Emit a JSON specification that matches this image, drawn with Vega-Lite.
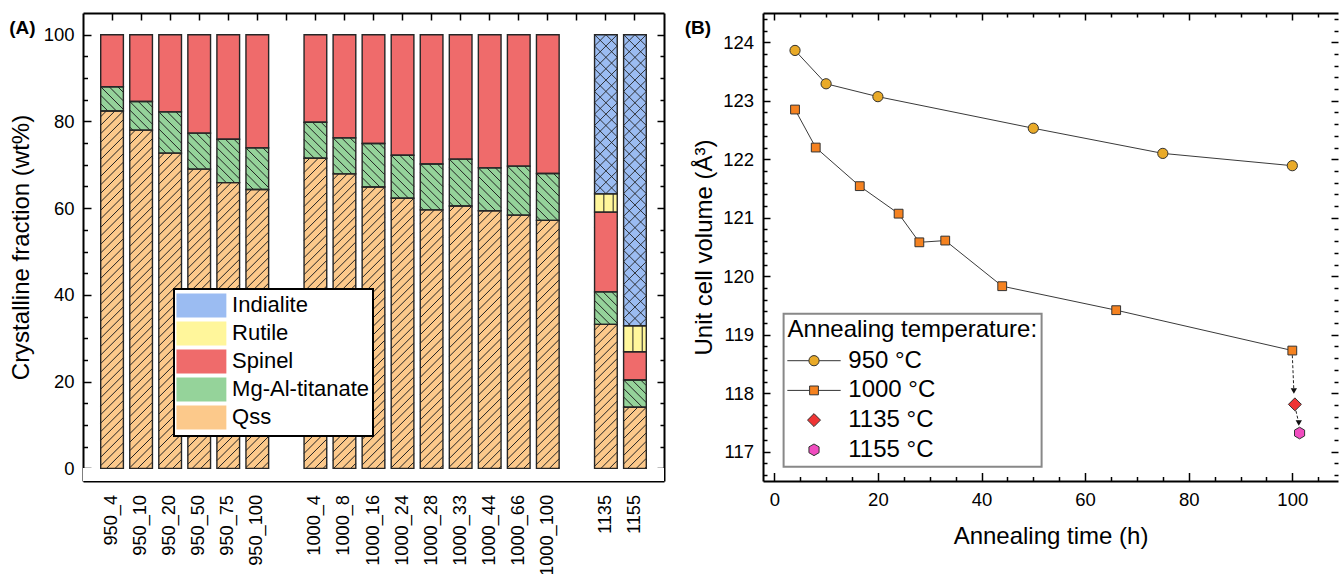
{
  "$schema": "https://vega.github.io/schema/vega-lite/v6.json",
  "background": "white",
  "padding": {"left": 9, "top": 12, "right": 0, "bottom": 0},
  "spacing": 19,
  "config": {
    "font": "Liberation Sans",
    "view": {"stroke": null},
    "axis": {
      "grid": false, "zindex": 1, "labelFont": "Liberation Sans", "titleFont": "Liberation Sans",
      "labelColor": "black", "titleColor": "black", "tickColor": "black", "domainColor": "black",
      "domainWidth": 2, "tickWidth": 1.5, "labelFontSize": 18.5, "titleFontSize": 24,
      "titleFontWeight": "normal", "labelFlush": false
    },
    "legend": {"labelFont": "Liberation Sans", "titleFont": "Liberation Sans", "labelColor": "black", "titleColor": "black", "strokeWidth": 2, "titleLimit": 400, "labelLimit": 300}
  },
  "resolve": {"scale": {"fill": "independent", "shape": "independent"}, "legend": {"fill": "independent", "shape": "independent"}},
  "hconcat": [
    {
      "width": 581,
      "height": 468,
      "title": {"text": "(A)", "anchor": "start", "frame": "bounds", "offset": -25.5, "baseline": "top", "fontSize": 19, "fontWeight": "bold", "color": "black", "font": "Liberation Sans"},
      "data": {"values": [
        {"sample": "950_4", "phase": "Qss", "wt": 82.4}, {"sample": "950_4", "phase": "Mg-Al-titanate", "wt": 5.6}, {"sample": "950_4", "phase": "Spinel", "wt": 12.0},
        {"sample": "950_10", "phase": "Qss", "wt": 78.0}, {"sample": "950_10", "phase": "Mg-Al-titanate", "wt": 6.6}, {"sample": "950_10", "phase": "Spinel", "wt": 15.4},
        {"sample": "950_20", "phase": "Qss", "wt": 72.7}, {"sample": "950_20", "phase": "Mg-Al-titanate", "wt": 9.5}, {"sample": "950_20", "phase": "Spinel", "wt": 17.8},
        {"sample": "950_50", "phase": "Qss", "wt": 69.0}, {"sample": "950_50", "phase": "Mg-Al-titanate", "wt": 8.3}, {"sample": "950_50", "phase": "Spinel", "wt": 22.7},
        {"sample": "950_75", "phase": "Qss", "wt": 65.9}, {"sample": "950_75", "phase": "Mg-Al-titanate", "wt": 10.0}, {"sample": "950_75", "phase": "Spinel", "wt": 24.1},
        {"sample": "950_100", "phase": "Qss", "wt": 64.3}, {"sample": "950_100", "phase": "Mg-Al-titanate", "wt": 9.6}, {"sample": "950_100", "phase": "Spinel", "wt": 26.1},
        {"sample": "1000_4", "phase": "Qss", "wt": 71.5}, {"sample": "1000_4", "phase": "Mg-Al-titanate", "wt": 8.3}, {"sample": "1000_4", "phase": "Spinel", "wt": 20.2},
        {"sample": "1000_8", "phase": "Qss", "wt": 67.9}, {"sample": "1000_8", "phase": "Mg-Al-titanate", "wt": 8.3}, {"sample": "1000_8", "phase": "Spinel", "wt": 23.8},
        {"sample": "1000_16", "phase": "Qss", "wt": 64.9}, {"sample": "1000_16", "phase": "Mg-Al-titanate", "wt": 10.0}, {"sample": "1000_16", "phase": "Spinel", "wt": 25.1},
        {"sample": "1000_24", "phase": "Qss", "wt": 62.3}, {"sample": "1000_24", "phase": "Mg-Al-titanate", "wt": 9.9}, {"sample": "1000_24", "phase": "Spinel", "wt": 27.8},
        {"sample": "1000_28", "phase": "Qss", "wt": 59.6}, {"sample": "1000_28", "phase": "Mg-Al-titanate", "wt": 10.6}, {"sample": "1000_28", "phase": "Spinel", "wt": 29.8},
        {"sample": "1000_33", "phase": "Qss", "wt": 60.5}, {"sample": "1000_33", "phase": "Mg-Al-titanate", "wt": 10.8}, {"sample": "1000_33", "phase": "Spinel", "wt": 28.7},
        {"sample": "1000_44", "phase": "Qss", "wt": 59.4}, {"sample": "1000_44", "phase": "Mg-Al-titanate", "wt": 9.9}, {"sample": "1000_44", "phase": "Spinel", "wt": 30.7},
        {"sample": "1000_66", "phase": "Qss", "wt": 58.4}, {"sample": "1000_66", "phase": "Mg-Al-titanate", "wt": 11.3}, {"sample": "1000_66", "phase": "Spinel", "wt": 30.3},
        {"sample": "1000_100", "phase": "Qss", "wt": 57.2}, {"sample": "1000_100", "phase": "Mg-Al-titanate", "wt": 10.8}, {"sample": "1000_100", "phase": "Spinel", "wt": 32.0},
        {"sample": "1135", "phase": "Qss", "wt": 33.2}, {"sample": "1135", "phase": "Mg-Al-titanate", "wt": 7.5}, {"sample": "1135", "phase": "Spinel", "wt": 18.4}, {"sample": "1135", "phase": "Rutile", "wt": 4.2}, {"sample": "1135", "phase": "Indialite", "wt": 36.7},
        {"sample": "1155", "phase": "Qss", "wt": 14.1}, {"sample": "1155", "phase": "Mg-Al-titanate", "wt": 6.3}, {"sample": "1155", "phase": "Spinel", "wt": 6.5}, {"sample": "1155", "phase": "Rutile", "wt": 6.0}, {"sample": "1155", "phase": "Indialite", "wt": 67.1}
      ]},
      "transform": [{"stack": "wt", "groupby": ["sample"], "as": ["w0", "w1"]}],
      "resolve": {"axis": {"x": "independent", "y": "independent"}},
      "layer": [
        {
          "mark": {"type": "point", "filled": true, "opacity": 0, "stroke": "#222", "strokeWidth": 1.2},
          "encoding": {
            "x": {"field": "sample", "type": "nominal", "axis": null},
            "y": {"field": "w1", "type": "quantitative", "axis": null},
            "fill": {"field": "phase", "type": "nominal",
              "scale": {"domain": ["Indialite", "Rutile", "Spinel", "Mg-Al-titanate", "Qss"], "range": ["#9bbcf2", "#fff69b", "#ef6b6b", "#95d39a", "#fcc98b"]},
              "legend": {"orient": "none", "legendX": 91, "legendY": 276, "title": null, "labelFontSize": 22, "symbolSize": 576, "symbolOffset": 11, "labelOffset": 17.7, "rowPadding": -4, "padding": 3.4, "fillColor": "white", "strokeColor": "black", "symbolStrokeColor": "#222", "symbolStrokeWidth": 1.2, "symbolOpacity": 1}},
            "shape": {"field": "phase", "type": "nominal",
              "scale": {"domain": ["Indialite", "Rutile", "Spinel", "Mg-Al-titanate", "Qss"], "range": [
                "M-2.08,-1L2.08,-1L2.08,1L-2.08,1ZM-2.08,0.08L-1,-1M-2,1L0,-1M-1,1L1,-1M0,1L2,-1M1,1L2.08,-0.08M2.08,0.08L1,-1M2,1L0,-1M1,1L-1,-1M0,1L-2,-1M-1,1L-2.08,-0.08",
                "M-2.08,-1L2.08,-1L2.08,1L-2.08,1ZM-1.55,-1L-1.55,1M-0.78,-1L-0.78,1M0,-1L0,1M0.78,-1L0.78,1M1.55,-1L1.55,1",
                "M-2.08,-1L2.08,-1L2.08,1L-2.08,1Z",
                "M-2.08,-1L2.08,-1L2.08,1L-2.08,1ZM2.08,-0.76L1.84,-1M2.08,-0.05L1.13,-1M2.08,0.66L0.42,-1M1.71,1L-0.29,-1M1,1L-1,-1M0.29,1L-1.71,-1M-0.42,1L-2.08,-0.66M-1.13,1L-2.08,0.05M-1.84,1L-2.08,0.76",
                "M-2.08,-1L2.08,-1L2.08,1L-2.08,1ZM-2.08,-0.76L-1.84,-1M-2.08,-0.05L-1.13,-1M-2.08,0.66L-0.42,-1M-1.71,1L0.29,-1M-1,1L1,-1M-0.29,1L1.71,-1M0.42,1L2.08,-0.66M1.13,1L2.08,0.05M1.84,1L2.08,0.76"]},
              "legend": {"orient": "none", "legendX": 91, "legendY": 276, "title": null, "labelFontSize": 22, "symbolSize": 576, "symbolOffset": 11, "labelOffset": 17.7, "rowPadding": -4, "padding": 3.4, "fillColor": "white", "strokeColor": "black", "symbolStrokeColor": "#222", "symbolStrokeWidth": 1.2, "symbolOpacity": 1}}
          }
        },
        {
          "transform": [{"filter": "datum.phase === 'Indialite'"}],
          "mark": {"type": "bar", "fill": "#9bbcf2", "strokeWidth": 0},
          "encoding": {
            "x": {"field": "sample", "type": "nominal", "scale": {"type": "band", "domain": ["950_4","950_10","950_20","950_50","950_75","950_100","gap1","1000_4","1000_8","1000_16","1000_24","1000_28","1000_33","1000_44","1000_66","1000_100","gap2","1135","1155"], "paddingInner": 0.219, "paddingOuter": 0.6095},
              "axis": {"orient": "bottom", "title": null, "labelAngle": 270, "tickSize": -7, "labelPadding": 20.5, "labelFontSize": 18.2, "labelExpr": "datum.value === 'gap1' || datum.value === 'gap2' ? '' : datum.value"}},
            "y": {"field": "w0", "type": "quantitative", "scale": {"domain": [-2.9, 105], "nice": false, "zero": false},
              "axis": {"orient": "left", "values": [0, 20, 40, 60, 80, 100], "tickSize": -8, "labelPadding": 17, "title": "Crystalline fraction (wt%)", "titlePadding": 10}},
            "y2": {"field": "w1"}
          }
        },
        {
          "transform": [{"filter": "datum.phase === 'Indialite'"}],
          "mark": {"type": "point", "filled": false, "opacity": 1, "stroke": "#222", "strokeWidth": 0.9, "size": 515.3, "clip": true,
            "shape": "M-1,1L0,0M-1,2L1,0M-1,3L1,1M-1,4L1,2M-1,5L1,3M-1,6L1,4M-1,7L1,5M-1,8L1,6M-1,9L1,7M-1,10L1,8M-1,11L1,9M-1,12L1,10M-1,13L1,11M-1,14L1,12M-1,15L1,13M-1,16L1,14M-1,17L1,15M-1,18L1,16M-1,19L1,17M-1,20L1,18M-1,21L1,19M-1,22L1,20M-1,23L1,21M-1,24L1,22M-1,25L1,23M-1,26L1,24M-1,27L1,25M-1,28L1,26M0,0L1,1M-1,0L1,2M-1,1L1,3M-1,2L1,4M-1,3L1,5M-1,4L1,6M-1,5L1,7M-1,6L1,8M-1,7L1,9M-1,8L1,10M-1,9L1,11M-1,10L1,12M-1,11L1,13M-1,12L1,14M-1,13L1,15M-1,14L1,16M-1,15L1,17M-1,16L1,18M-1,17L1,19M-1,18L1,20M-1,19L1,21M-1,20L1,22M-1,21L1,23M-1,22L1,24M-1,23L1,25M-1,24L1,26M-1,25L1,27M-1,26L1,28"},
          "encoding": {
            "x": {"field": "sample", "type": "nominal", "axis": {"orient": "top", "title": null, "labels": false, "tickSize": -7}},
            "y": {"field": "w1", "type": "quantitative", "axis": {"orient": "left", "values": [5,10,15,25,30,35,45,50,55,65,70,75,85,90,95], "tickSize": -4.5, "labels": false, "domain": false, "title": null}}
          }
        },
        {
          "transform": [{"filter": "datum.phase === 'Rutile'"}],
          "mark": {"type": "bar", "fill": "#fff69b", "strokeWidth": 0},
          "encoding": {
            "x": {"field": "sample", "type": "nominal", "axis": null},
            "y": {"field": "w0", "type": "quantitative", "axis": {"orient": "right", "values": [0, 20, 40, 60, 80, 100], "tickSize": -7, "labels": false, "title": null}},
            "y2": {"field": "w1"}
          }
        },
        {
          "transform": [{"filter": "datum.phase === 'Rutile'"}],
          "mark": {"type": "point", "filled": false, "opacity": 1, "stroke": "#222", "strokeWidth": 1, "size": 515.3, "clip": true,
            "shape": "M-0.18,0L-0.18,2.4M0.64,0L0.64,2.4"},
          "encoding": {
            "x": {"field": "sample", "type": "nominal", "axis": null},
            "y": {"field": "w1", "type": "quantitative", "axis": {"orient": "right", "values": [5,10,15,25,30,35,45,50,55,65,70,75,85,90,95], "tickSize": -4, "labels": false, "domain": false, "title": null}}
          }
        },
        {
          "transform": [{"filter": "datum.phase === 'Spinel'"}],
          "mark": {"type": "bar", "fill": "#ef6b6b", "strokeWidth": 0},
          "encoding": {
            "x": {"field": "sample", "type": "nominal", "axis": null},
            "y": {"field": "w0", "type": "quantitative", "axis": null},
            "y2": {"field": "w1"}
          }
        },
        {
          "transform": [{"filter": "datum.phase === 'Mg-Al-titanate'"}],
          "mark": {"type": "bar", "fill": "#95d39a", "strokeWidth": 0},
          "encoding": {
            "x": {"field": "sample", "type": "nominal", "axis": null},
            "y": {"field": "w0", "type": "quantitative", "axis": null},
            "y2": {"field": "w1"}
          }
        },
        {
          "transform": [{"filter": "datum.phase === 'Mg-Al-titanate'"}],
          "mark": {"type": "point", "filled": false, "opacity": 1, "stroke": "#222", "strokeWidth": 1, "size": 515.3, "clip": true,
            "shape": "M0.5,0L1,0.5M-0.25,0L1,1.25M-1,0L1,2M-1,0.75L1,2.75M-1,1.5L1,3.5M-1,2.25L1,4.25M-1,3L1,5M-1,3.75L1,5.75M-1,4.5L1,6.5M-1,5.25L1,7.25"},
          "encoding": {
            "x": {"field": "sample", "type": "nominal", "axis": null},
            "y": {"field": "w1", "type": "quantitative", "axis": null}
          }
        },
        {
          "transform": [{"filter": "datum.phase === 'Qss'"}],
          "mark": {"type": "bar", "fill": "#fcc98b", "strokeWidth": 0},
          "encoding": {
            "x": {"field": "sample", "type": "nominal", "axis": null},
            "y": {"field": "w0", "type": "quantitative", "axis": null},
            "y2": {"field": "w1"}
          }
        },
        {
          "transform": [{"filter": "datum.phase === 'Qss'"}],
          "mark": {"type": "point", "filled": false, "opacity": 1, "stroke": "#222", "strokeWidth": 1, "size": 515.3, "clip": true,
            "shape": "M-1,0.5L-0.5,0M-1,1.25L0.25,0M-1,2L1,0M-1,2.75L1,0.75M-1,3.5L1,1.5M-1,4.25L1,2.25M-1,5L1,3M-1,5.75L1,3.75M-1,6.5L1,4.5M-1,7.25L1,5.25M-1,8L1,6M-1,8.75L1,6.75M-1,9.5L1,7.5M-1,10.25L1,8.25M-1,11L1,9M-1,11.75L1,9.75M-1,12.5L1,10.5M-1,13.25L1,11.25M-1,14L1,12M-1,14.75L1,12.75M-1,15.5L1,13.5M-1,16.25L1,14.25M-1,17L1,15M-1,17.75L1,15.75M-1,18.5L1,16.5M-1,19.25L1,17.25M-1,20L1,18M-1,20.75L1,18.75M-1,21.5L1,19.5M-1,22.25L1,20.25M-1,23L1,21M-1,23.75L1,21.75M-1,24.5L1,22.5M-1,25.25L1,23.25M-1,26L1,24M-1,26.75L1,24.75M-1,27.5L1,25.5M-1,28.25L1,26.25M-1,29L1,27M-1,29.75L1,27.75M-1,30.5L1,28.5M-1,31.25L1,29.25M-1,32L1,30M-1,32.75L1,30.75M-1,33.5L1,31.5"},
          "encoding": {
            "x": {"field": "sample", "type": "nominal", "axis": null},
            "y": {"field": "w1", "type": "quantitative", "axis": null}
          }
        },
        {
          "mark": {"type": "rect", "fill": "white", "strokeWidth": 0},
          "encoding": {
            "x": {"value": 0},
            "x2": {"value": "width"},
            "y": {"datum": 0, "type": "quantitative", "axis": null},
            "y2": {"datum": -2.9}
          }
        },
        {
          "mark": {"type": "bar", "fillOpacity": 0, "stroke": "#262626", "strokeWidth": 1.4},
          "encoding": {
            "x": {"field": "sample", "type": "nominal", "axis": null},
            "y": {"field": "w0", "type": "quantitative", "axis": null},
            "y2": {"field": "w1"}
          }
        }
      ]
    },
    {
      "width": 575,
      "height": 468,
      "title": {"text": "(B)", "anchor": "start", "frame": "bounds", "offset": -25.5, "baseline": "top", "dx": -8, "fontSize": 19, "fontWeight": "bold", "color": "black", "font": "Liberation Sans"},
      "data": {"values": [
        {"temp": "950 °C", "t": 4, "v": 123.86}, {"temp": "950 °C", "t": 10, "v": 123.29}, {"temp": "950 °C", "t": 20, "v": 123.07},
        {"temp": "950 °C", "t": 50, "v": 122.53}, {"temp": "950 °C", "t": 75, "v": 122.10}, {"temp": "950 °C", "t": 100, "v": 121.89},
        {"temp": "1000 °C", "t": 4, "v": 122.85}, {"temp": "1000 °C", "t": 8, "v": 122.20}, {"temp": "1000 °C", "t": 16.5, "v": 121.54},
        {"temp": "1000 °C", "t": 24, "v": 121.07}, {"temp": "1000 °C", "t": 28, "v": 120.58}, {"temp": "1000 °C", "t": 33, "v": 120.61},
        {"temp": "1000 °C", "t": 44, "v": 119.83}, {"temp": "1000 °C", "t": 66, "v": 119.42}, {"temp": "1000 °C", "t": 100, "v": 118.73},
        {"temp": "1135 °C", "t": 100.5, "v": 117.81},
        {"temp": "1155 °C", "t": 101.4, "v": 117.32}
      ]},
      "resolve": {"axis": {"x": "independent", "y": "independent"}},
      "layer": [
        {
          "transform": [{"filter": "datum.temp === '950 °C' || datum.temp === '1000 °C'"}],
          "mark": {"type": "line", "color": "#3a3a3a", "strokeWidth": 1},
          "encoding": {
            "x": {"field": "t", "type": "quantitative", "scale": {"domain": [-2.18, 108.82], "nice": false, "zero": false},
              "axis": {"orient": "bottom", "values": [0, 20, 40, 60, 80, 100], "tickSize": -8.5, "labelPadding": 18, "title": "Annealing time (h)", "titlePadding": 15.7}},
            "y": {"field": "v", "type": "quantitative", "scale": {"domain": [116.5, 124.5], "nice": false, "zero": false},
              "axis": {"orient": "left", "values": [117, 118, 119, 120, 121, 122, 123, 124], "format": "d", "tickSize": -7, "labelPadding": 16.4, "title": "Unit cell volume (Å³)", "titlePadding": 6}},
            "detail": {"field": "temp"}
          }
        },
        {
          "data": {"values": [
            {"t1": 100, "v1": 118.65, "t2": 100.3, "v2": 118.04},
            {"t1": 100.7, "v1": 117.70, "t2": 101.25, "v2": 117.49}
          ]},
          "mark": {"type": "rule", "color": "#222", "strokeWidth": 1, "strokeDash": [3, 2]},
          "encoding": {
            "x": {"field": "t1", "type": "quantitative", "axis": {"orient": "bottom", "values": [5,10,15,25,30,35,45,50,55,65,70,75,85,90,95,105], "tickSize": -4.5, "labels": false, "domain": false, "title": null}},
            "y": {"field": "v1", "type": "quantitative", "axis": {"orient": "left", "values": [116.6,116.8,117.2,117.4,117.6,117.8,118.2,118.4,118.6,118.8,119.2,119.4,119.6,119.8,120.2,120.4,120.6,120.8,121.2,121.4,121.6,121.8,122.2,122.4,122.6,122.8,123.2,123.4,123.6,123.8,124.2,124.4], "tickSize": -4, "labels": false, "domain": false, "title": null}},
            "x2": {"field": "t2"},
            "y2": {"field": "v2"}
          }
        },
        {
          "data": {"values": [
            {"t2": 100.3, "v2": 118.04},
            {"t2": 101.25, "v2": 117.49}
          ]},
          "mark": {"type": "point", "shape": "triangle-down", "filled": true, "color": "#111", "size": 40, "opacity": 1},
          "encoding": {
            "x": {"field": "t2", "type": "quantitative", "axis": {"orient": "top", "values": [0, 20, 40, 60, 80, 100], "tickSize": -7, "labels": false, "title": null}},
            "y": {"field": "v2", "type": "quantitative", "axis": {"orient": "right", "values": [117, 118, 119, 120, 121, 122, 123, 124], "tickSize": -7, "labels": false, "domain": false, "title": null}}
          }
        },
        {
          "transform": [{"filter": "datum.temp === '950 °C'"}],
          "mark": {"type": "point", "filled": true, "size": 121, "stroke": "#333", "strokeWidth": 1, "opacity": 1,
            "shape": "M-0.93,0A0.93,0.93 0 1,1 0.93,0A0.93,0.93 0 1,1 -0.93,0Z"},
          "encoding": {
            "x": {"field": "t", "type": "quantitative", "axis": {"orient": "top", "values": [5,10,15,25,30,35,45,50,55,65,70,75,85,90,95,105], "tickSize": -4, "labels": false, "domain": false, "title": null}},
            "y": {"field": "v", "type": "quantitative", "axis": {"orient": "right", "values": [116.6,116.8,117.2,117.4,117.6,117.8,118.2,118.4,118.6,118.8,119.2,119.4,119.6,119.8,120.2,120.4,120.6,120.8,121.2,121.4,121.6,121.8,122.2,122.4,122.6,122.8,123.2,123.4,123.6,123.8,124.2,124.4], "tickSize": -4, "labels": false, "domain": false, "title": null}},
            "fill": {"field": "temp", "type": "nominal"}
          }
        },
        {
          "transform": [{"filter": "datum.temp === '1000 °C'"}],
          "mark": {"type": "point", "filled": true, "size": 121, "stroke": "#333", "strokeWidth": 1, "opacity": 1,
            "shape": "M-0.8,-0.8L0.8,-0.8L0.8,0.8L-0.8,0.8Z"},
          "encoding": {
            "x": {"field": "t", "type": "quantitative", "axis": null},
            "y": {"field": "v", "type": "quantitative", "axis": null},
            "fill": {"field": "temp", "type": "nominal"}
          }
        },
        {
          "transform": [{"filter": "datum.temp === '1135 °C'"}],
          "mark": {"type": "point", "filled": true, "size": 121, "stroke": "#333", "strokeWidth": 1, "opacity": 1,
            "shape": "M0,-1.18L1.18,0L0,1.18L-1.18,0Z"},
          "encoding": {
            "x": {"field": "t", "type": "quantitative", "axis": null},
            "y": {"field": "v", "type": "quantitative", "axis": null},
            "fill": {"field": "temp", "type": "nominal"}
          }
        },
        {
          "transform": [{"filter": "datum.temp === '1155 °C'"}],
          "mark": {"type": "point", "filled": true, "size": 121, "stroke": "#333", "strokeWidth": 1, "opacity": 1,
            "shape": "M0,-1.06L0.92,-0.53L0.92,0.53L0,1.06L-0.92,0.53L-0.92,-0.53Z"},
          "encoding": {
            "x": {"field": "t", "type": "quantitative", "axis": null},
            "y": {"field": "v", "type": "quantitative", "axis": null},
            "fill": {"field": "temp", "type": "nominal"}
          }
        },
        {
          "mark": {"type": "point", "filled": true, "opacity": 0, "stroke": "#333", "strokeWidth": 1},
          "encoding": {
            "x": {"field": "t", "type": "quantitative", "axis": null},
            "y": {"field": "v", "type": "quantitative", "axis": null},
            "fill": {"field": "temp", "type": "nominal",
              "scale": {"domain": ["950 °C", "1000 °C", "1135 °C", "1155 °C"], "range": ["#e9aa28", "#f58220", "#ef3434", "#f04cbf"]},
              "legend": {"orient": "none", "legendX": 20.6, "legendY": 300.7, "title": "Annealing temperature:", "titleFontSize": 24, "titleFontWeight": "normal", "titlePadding": 7, "labelFontSize": 24, "symbolSize": 121, "symbolOffset": 14.4, "labelOffset": 22.3, "rowPadding": 5.7, "padding": 4, "fillColor": "white", "strokeColor": "#888", "symbolStrokeColor": "#333", "symbolStrokeWidth": 1, "symbolOpacity": 1}},
            "shape": {"field": "temp", "type": "nominal",
              "scale": {"domain": ["950 °C", "1000 °C", "1135 °C", "1155 °C"], "range": [
                "M-4.85,0L-0.93,0M0.93,0L4.85,0M-0.93,0A0.93,0.93 0 1,1 0.93,0A0.93,0.93 0 1,1 -0.93,0Z",
                "M-4.85,0L-0.8,0M0.8,0L4.85,0M-0.8,-0.8L0.8,-0.8L0.8,0.8L-0.8,0.8Z",
                "M0,-1.18L1.18,0L0,1.18L-1.18,0Z",
                "M0,-1.06L0.92,-0.53L0.92,0.53L0,1.06L-0.92,0.53L-0.92,-0.53Z"]},
              "legend": {"orient": "none", "legendX": 20.6, "legendY": 300.7, "title": "Annealing temperature:", "titleFontSize": 24, "titleFontWeight": "normal", "titlePadding": 7, "labelFontSize": 24, "symbolSize": 121, "symbolOffset": 14.4, "labelOffset": 22.3, "rowPadding": 5.7, "padding": 4, "fillColor": "white", "strokeColor": "#888", "symbolStrokeColor": "#333", "symbolStrokeWidth": 1, "symbolOpacity": 1}}
          }
        }
      ]
    }
  ]
}
